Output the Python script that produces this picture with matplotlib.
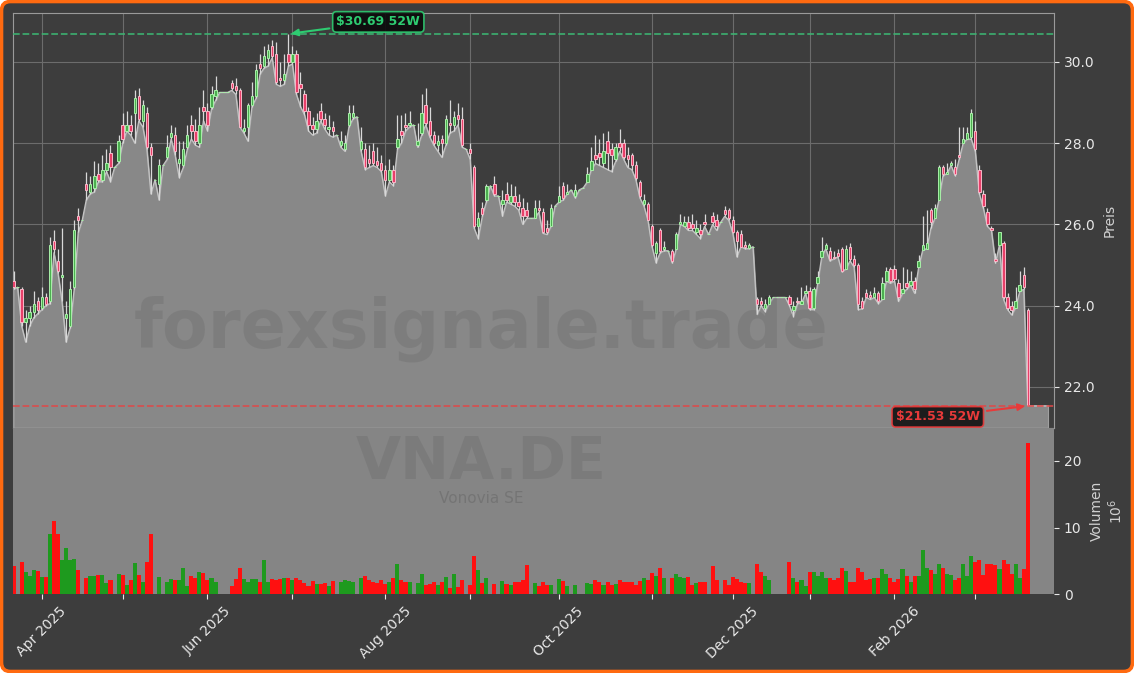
import numpy as np
import pandas as pd
import matplotlib
matplotlib.use("Agg")
import matplotlib.pyplot as plt
from matplotlib.patches import FancyBboxPatch
from matplotlib.transforms import IdentityTransform

# ---------------- data ----------------
opens = [24.60,24.45,24.40,23.60,23.70,23.85,24.10,23.95,24.20,24.10,25.60,25.10,24.70,23.70,23.50,24.45,26.20,26.10,27.00,26.80,
26.90,27.25,27.10,27.35,27.75,27.40,27.55,28.45,28.30,28.45,28.75,29.15,28.55,28.75,27.90,27.10,27.00,27.45,27.65,28.15,
28.20,27.50,27.45,27.90,28.45,28.30,28.00,28.90,28.80,28.90,29.15,29.25,29.25,29.25,29.48,29.40,29.30,28.30,28.40,28.95,
29.15,29.95,29.90,30.10,30.40,30.20,29.60,29.55,30.20,30.00,30.20,29.45,29.20,28.80,28.45,28.35,28.80,28.60,28.35,28.40,
28.20,27.95,27.85,28.45,28.65,28.65,27.85,27.85,27.60,27.80,27.55,27.50,27.35,27.10,27.35,27.90,28.30,28.45,28.45,28.45,
27.95,28.25,28.95,28.55,28.20,27.95,28.10,28.00,28.50,28.45,28.70,28.60,27.85,27.85,27.40,25.95,26.40,26.60,26.95,27.00,
26.70,26.50,26.75,26.55,26.70,26.55,26.40,26.35,26.15,26.15,26.40,26.30,25.90,25.95,26.45,26.55,26.95,26.75,26.85,26.70,
26.85,26.90,27.05,27.35,27.70,27.75,27.50,28.05,27.85,27.60,28.00,28.00,27.70,27.70,27.45,27.05,26.50,26.50,25.95,25.30,
25.85,25.40,25.35,25.35,25.40,26.00,25.95,26.05,26.00,25.80,25.85,26.05,25.75,26.20,26.10,26.05,26.35,26.35,26.10,25.80,
25.75,25.50,25.42,25.45,24.15,24.10,23.95,24.05,24.20,24.20,24.20,24.20,24.20,23.90,24.10,24.05,24.30,24.35,23.95,24.55,
25.20,25.40,25.35,25.20,25.30,25.40,24.90,25.45,25.15,25.00,24.10,24.30,24.25,24.20,24.30,24.15,24.60,24.90,24.90,24.55,
24.30,24.55,24.50,24.60,24.95,25.37,25.40,26.35,26.15,26.60,27.42,27.25,27.45,27.40,27.70,28.00,28.10,28.15,28.30,27.35,
26.75,26.30,25.90,25.15,25.50,25.55,24.20,24.00,23.95,24.35,24.75,23.90]

highs = [24.85,24.45,24.45,23.90,24.00,24.35,24.20,24.45,24.30,25.70,25.85,25.40,25.90,24.10,24.60,26.10,26.40,26.10,27.30,27.20,
27.55,27.50,27.70,27.85,27.95,27.40,28.20,28.75,28.80,28.70,29.30,29.35,29.05,28.90,28.00,27.10,27.60,27.45,28.20,28.45,
28.40,28.05,28.05,28.45,28.70,28.60,28.90,29.30,29.00,29.40,29.65,29.25,29.25,29.25,29.55,29.60,29.35,28.60,29.00,29.50,
29.95,30.20,30.40,30.45,30.55,30.50,30.00,30.20,30.69,30.40,30.30,29.75,29.30,28.90,28.65,28.75,29.00,28.75,28.70,28.55,
28.20,28.30,28.20,28.95,28.95,28.65,28.40,28.00,27.95,28.00,27.90,27.70,27.45,27.60,27.45,28.70,28.70,28.75,28.80,28.45,
28.50,29.20,29.35,28.90,28.30,28.20,28.20,28.70,29.05,28.80,29.00,28.90,27.85,28.00,27.45,26.30,26.55,27.00,26.95,27.20,
26.70,26.85,27.05,27.00,26.95,26.75,26.65,26.55,26.15,26.60,26.60,26.40,26.10,26.50,26.45,26.95,27.05,27.00,26.85,27.00,
26.85,26.90,27.40,27.90,28.20,28.10,28.25,28.30,28.00,28.00,28.35,28.10,27.90,27.75,27.55,27.10,26.75,26.55,26.00,25.60,
25.90,25.60,25.35,25.40,25.80,26.25,26.20,26.20,26.25,26.10,26.00,26.25,25.75,26.30,26.25,26.05,26.45,26.40,26.20,25.85,
25.85,25.60,25.55,25.45,24.20,24.20,24.15,24.25,24.20,24.20,24.20,24.20,24.25,24.10,24.20,24.45,24.50,24.45,24.45,24.85,
25.70,25.55,25.45,25.35,25.40,25.45,25.50,25.55,25.25,25.05,24.20,24.40,24.35,24.45,24.35,24.70,24.95,24.95,25.00,24.65,
24.95,24.90,24.85,24.70,25.25,26.20,26.35,26.40,26.50,27.45,27.45,27.50,27.55,27.60,28.40,28.40,28.40,28.85,28.55,27.45,
26.85,26.40,25.95,25.30,25.80,25.60,24.30,24.10,24.45,24.85,24.95,23.95]

lows = [24.40,24.45,23.50,23.10,23.50,23.70,23.80,23.90,24.00,24.05,25.30,24.80,24.10,23.10,23.45,24.40,25.80,26.10,26.60,26.75,
26.80,27.05,27.05,27.30,27.05,27.40,27.50,28.00,28.30,28.20,28.00,28.55,28.40,27.85,26.75,27.10,26.60,27.45,27.60,28.10,
27.70,27.15,27.40,27.85,28.10,27.95,27.90,28.55,28.30,28.85,29.05,29.25,29.25,29.25,29.30,29.20,28.40,28.25,28.05,28.90,
29.10,29.70,29.85,29.90,30.10,29.45,29.40,29.45,29.90,29.95,29.20,28.90,28.70,28.30,28.20,28.25,28.55,28.35,28.20,28.15,
28.20,27.90,27.80,28.40,28.60,28.65,27.80,27.35,27.40,27.45,27.40,27.30,26.70,27.05,26.95,27.85,28.00,28.30,28.40,28.45,
27.90,28.20,28.45,28.15,27.95,27.80,27.65,27.95,28.25,28.30,28.45,27.90,27.85,27.60,25.90,25.65,26.20,26.55,26.95,26.70,
26.70,26.20,26.55,26.50,26.45,26.35,26.00,26.15,26.15,26.15,26.30,25.78,25.75,25.95,26.45,26.55,26.60,26.75,26.85,26.65,
26.85,26.90,27.05,27.35,27.50,27.45,27.40,27.35,27.30,27.55,27.80,27.60,27.40,27.35,27.10,26.65,26.45,26.10,25.45,25.05,
25.30,25.35,25.35,25.05,25.40,26.00,25.95,25.85,25.85,25.75,25.65,25.95,25.75,26.00,25.85,26.05,26.20,26.10,25.78,25.20,
25.45,25.40,25.40,25.45,23.78,24.00,23.85,24.05,24.20,24.20,24.20,24.20,24.00,23.73,24.05,24.05,24.30,23.90,23.90,24.55,
25.20,25.40,25.10,25.15,25.20,24.83,24.90,25.10,24.95,23.90,23.92,24.20,24.15,24.20,24.05,24.15,24.60,24.55,24.60,24.10,
24.30,24.40,24.50,24.30,24.95,25.37,25.40,25.90,26.15,26.60,27.20,27.25,27.45,27.20,27.60,28.00,28.10,28.10,27.80,26.75,
26.40,25.95,25.85,25.05,25.50,24.15,23.90,23.77,23.95,24.35,24.40,21.53]

closes = [24.45,24.45,23.60,23.70,23.85,24.05,23.90,24.20,24.05,25.50,25.40,24.85,24.75,23.80,24.40,25.85,26.10,26.10,26.85,27.00,
27.20,27.10,27.35,27.50,27.40,27.40,28.05,28.10,28.45,28.30,29.10,28.60,28.95,27.90,27.70,27.10,27.45,27.45,27.90,28.25,
27.80,27.60,27.85,28.20,28.30,28.05,28.45,28.80,28.45,29.20,29.30,29.25,29.25,29.25,29.36,29.30,28.40,28.38,28.95,29.15,
29.80,29.85,30.15,30.30,30.15,29.50,29.55,29.70,30.00,30.20,29.25,29.35,28.80,28.45,28.35,28.55,28.60,28.45,28.40,28.30,
28.20,28.05,28.00,28.75,28.75,28.65,28.05,27.40,27.50,27.50,27.45,27.35,27.10,27.35,27.05,28.10,28.20,28.40,28.50,28.45,
28.05,28.75,28.50,28.20,28.00,28.05,28.00,28.60,28.45,28.65,28.60,27.95,27.85,27.75,25.95,26.15,26.25,26.95,26.95,26.75,
26.70,26.60,26.60,26.70,26.55,26.45,26.20,26.20,26.15,26.40,26.35,25.80,25.82,26.40,26.45,26.70,26.65,26.80,26.85,26.85,
26.85,26.90,27.25,27.55,27.60,27.65,27.80,27.75,27.70,27.90,27.90,27.65,27.60,27.45,27.15,26.70,26.60,26.10,25.50,25.55,
25.35,25.45,25.35,25.10,25.75,26.05,26.05,25.90,25.90,25.90,25.75,26.00,25.75,26.05,25.95,26.05,26.25,26.15,25.80,25.60,
25.45,25.45,25.48,25.45,24.05,24.05,24.05,24.20,24.20,24.20,24.20,24.20,24.05,24.00,24.08,24.10,24.35,23.95,24.40,24.70,
25.35,25.50,25.15,25.18,25.22,24.85,25.40,25.15,25.00,24.05,23.95,24.22,24.20,24.30,24.10,24.55,24.85,24.60,24.65,24.20,
24.40,24.45,24.60,24.40,25.10,25.50,25.55,26.05,26.40,27.40,27.25,27.30,27.50,27.25,27.65,28.10,28.25,28.75,27.85,26.80,
26.45,26.00,25.87,25.10,25.80,24.20,23.95,23.90,24.10,24.50,24.45,21.55]

volumes_mio = [4.2,0,4.8,3.3,2.7,3.6,3.5,2.6,2.6,9.1,11.0,9.0,5.1,7.0,5.2,5.3,3.6,0,2.5,2.7,
2.7,2.9,2.9,1.7,2.2,0,3.0,2.9,1.4,2.2,4.7,2.9,1.8,4.9,9.0,0,2.6,0,1.9,2.3,
2.2,2.2,3.9,1.3,2.7,2.5,3.4,3.2,2.1,2.5,1.9,0,0,0,1.3,2.3,3.9,2.3,1.9,2.3,
2.3,1.9,5.1,1.9,2.3,2.1,2.3,2.5,2.5,2.1,2.5,2.1,1.7,1.3,2.0,1.6,1.6,1.7,1.3,2.0,
0,1.8,2.2,2.0,1.8,0,2.5,2.7,2.2,1.8,1.7,2.2,1.5,1.8,2.4,4.5,2.2,1.8,1.8,0,
1.7,3.0,1.4,1.5,1.8,1.4,1.8,2.6,0.9,3.0,1.1,2.2,0,1.4,5.7,3.6,1.7,2.5,0,1.5,
0,2.0,1.5,1.4,1.8,1.8,2.2,4.4,0,1.7,1.3,1.8,1.4,1.4,0,2.3,2.0,1.3,0,1.4,
0,0,1.7,1.6,2.2,1.8,1.4,1.8,1.4,1.6,2.2,1.8,1.8,1.8,1.4,2.0,2.4,2.2,3.2,2.7,
3.9,2.5,0,2.5,3.0,2.6,2.5,2.6,1.4,1.7,1.8,1.8,0,4.2,2.2,0,2.1,1.4,2.6,2.3,
1.8,1.7,1.7,0,4.6,3.4,2.7,2.2,0,0,0,0,4.9,2.4,1.8,2.2,1.3,3.4,3.4,2.7,
3.4,2.4,2.4,2.1,2.4,4.0,3.5,1.9,1.8,4.0,3.3,2.2,2.3,2.4,2.4,3.8,3.0,2.4,1.8,2.3,
3.8,2.8,1.9,2.8,2.7,6.6,4.0,3.7,3.1,4.5,3.9,3.1,2.9,2.2,2.4,4.6,2.7,5.7,4.8,5.1,
2.9,4.5,4.6,4.4,3.8,5.2,4.5,3.0,4.5,2.5,3.8,22.7]

holidays = ["2025-04-18", "2025-04-21", "2025-05-01", "2025-12-24",
            "2025-12-25", "2025-12-26", "2025-12-31", "2026-01-01"]
ticker = "VNA.DE"
company = "Vonovia SE"
watermark = "forexsignale.trade"

# ---------------- preparation ----------------
dates = pd.bdate_range("2025-03-21", "2026-03-19")
dates = dates[~dates.isin(pd.to_datetime(holidays))]
o = np.array(opens); h = np.array(highs); l = np.array(lows); c = np.array(closes)
v = np.array(volumes_mio)
n = len(c)
x = np.arange(n)
up = c >= o

hi = h.max(); lo = l.min()
i_hi = int(h.argmax()); i_lo = int(l.argmin())
ybot, ytop = lo * 0.975, hi * 1.017

BG = "#3d3d3d"
FILL = "#888888"
TXT = "#e8e8e8"

fig = plt.figure(figsize=(11.34, 6.73), dpi=100, facecolor="white")
fig.patches.append(FancyBboxPatch((1.5, 1.5), 1131, 670,
                                  boxstyle="round,pad=0,rounding_size=9",
                                  transform=IdentityTransform(), facecolor=BG,
                                  edgecolor="#ff6a10", linewidth=2.6, zorder=-10))

ax = fig.add_axes([0.0112, 0.3645, 0.9183, 0.6166])
axv = fig.add_axes([0.0112, 0.1169, 0.9183, 0.2475], sharex=ax)

# ---------------- price panel ----------------
ax.set_facecolor(BG)
xf = np.append(x, x[-1] + 5)
lf = np.append(l, l[-1])
ax.fill_between(xf, lf, ybot, facecolor=FILL, edgecolor="#a0a0a0", linewidth=0.8, zorder=1.5)
ax.plot(xf, lf, color="#c4c4c4", lw=0.9, zorder=1.6)

ax.text(0.45, 0.193, watermark, transform=ax.transAxes, fontsize=48, fontweight="bold",
        color="black", alpha=0.075, ha="center", va="baseline", zorder=1.8)

ax.vlines(x, l, h, color="#d8d8d8", lw=0.9, zorder=3)
bot = np.minimum(o, c); hgt = np.abs(c - o)
ax.bar(x[up], hgt[up], bottom=bot[up], width=0.6, color="#4caf50",
       edgecolor="#a8f0a8", linewidth=0.7, zorder=4)
ax.bar(x[~up], hgt[~up], bottom=bot[~up], width=0.6, color="#e8406a",
       edgecolor="#f8b8c8", linewidth=0.7, zorder=4)

ax.axhline(hi, color="#3cb371", ls="--", lw=1.3, alpha=0.9, zorder=5)
ax.axhline(lo, color="#e04848", ls="--", lw=1.3, alpha=0.85, zorder=5)

ax.annotate(f"${hi:.2f} 52W", xy=(x[i_hi], hi), xytext=(90, 12), textcoords="offset pixels",
            ha="center", va="center", fontsize=9, fontweight="bold", color="#2ecc71",
            bbox=dict(boxstyle="round,pad=0.3", fc="#0a0a0a", ec="#2ecc71", lw=1.2, alpha=0.9),
            arrowprops=dict(arrowstyle="-|>", color="#2ecc71", lw=1.5, mutation_scale=10),
            zorder=10)
ax.annotate(f"${lo:.2f} 52W", xy=(x[i_lo], lo), xytext=(-90, -11), textcoords="offset pixels",
            ha="center", va="center", fontsize=9, fontweight="bold", color="#e83a3a",
            bbox=dict(boxstyle="round,pad=0.3", fc="#111111", ec="#e83a3a", lw=1.2, alpha=0.9),
            arrowprops=dict(arrowstyle="-|>", color="#e83a3a", lw=1.5, mutation_scale=10),
            zorder=10)

ax.set_ylim(ybot, ytop)
ax.set_xlim(-0.2, n + 5.5)
ax.set_yticks([22, 24, 26, 28, 30])
ax.set_yticklabels([f"{t:.1f}" for t in [22, 24, 26, 28, 30]])
ax.yaxis.tick_right()
ax.yaxis.set_label_position("right")
ax.set_ylabel("Preis", color="#d0d0d0", fontsize=10, labelpad=6)
ax.tick_params(axis="y", colors=TXT, labelsize=10)
ax.tick_params(axis="x", length=0, labelbottom=False)
ax.grid(True, color="#6c6c6c", lw=0.8)
ax.set_axisbelow(True)
for s in ax.spines.values():
    s.set_color("#9a9a9a")

# ---------------- volume panel ----------------
axv.set_facecolor("#858585")
vcol = np.where(up, "#1e9a1e", "#ff1010")
axv.bar(x, v, width=1.0, color=vcol, linewidth=0, zorder=2)
axv.text(0.45, 0.69, ticker, transform=axv.transAxes, fontsize=42, fontweight="bold",
         color="black", alpha=0.075, ha="center", va="baseline", zorder=1)
axv.text(0.45, 0.55, company, transform=axv.transAxes, fontsize=11,
         color="black", alpha=0.12, ha="center", va="baseline", zorder=1)
axv.set_ylim(0, v.max() * 1.1)
axv.set_yticks([0, 10, 20])
axv.yaxis.tick_right()
axv.yaxis.set_label_position("right")
axv.set_ylabel("Volumen\n$10^6$", color="#d0d0d0", fontsize=10, labelpad=6)
axv.tick_params(axis="y", colors=TXT, labelsize=10)
for s in axv.spines.values():
    s.set_visible(False)

month_idx = [i for i in range(1, n) if dates[i].month != dates[i - 1].month]
month_lab = [dates[i].strftime("%b %Y") if dates[i].month % 2 == 0 else "" for i in month_idx]
axv.set_xticks(month_idx)
axv.set_xticklabels(month_lab, rotation=45)
axv.tick_params(axis="x", colors=TXT, labelsize=10)

fig.savefig("out.png", dpi=100, facecolor=fig.get_facecolor())
